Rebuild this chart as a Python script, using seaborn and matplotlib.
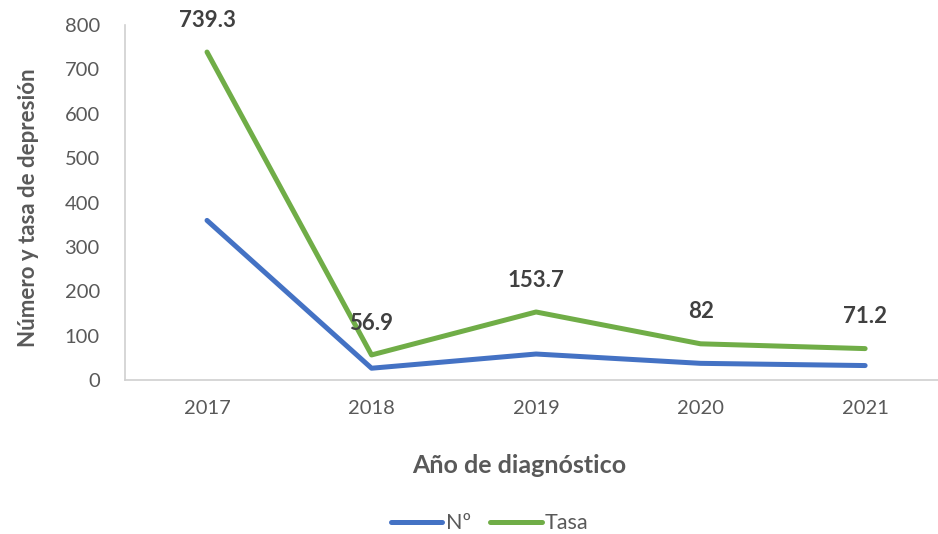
import pandas as pd
import numpy as np
import matplotlib.pyplot as plt
import seaborn as sns

# datos
anios = ['2017', '2018', '2019', '2020', '2021']
numero = [360, 27, 59, 38, 33]
tasa = [739.3, 56.9, 153.7, 82, 71.2]
etiquetas_tasa = ['739.3', '56.9', '153.7', '82', '71.2']

df = pd.DataFrame({
    'Año': anios * 2,
    'Valor': numero + tasa,
    'Serie': ['Nº'] * len(anios) + ['Tasa'] * len(anios),
})

sns.set_style('white')
plt.rcParams['font.family'] = ['Lato', 'DejaVu Sans']

fig = plt.figure(figsize=(9.38, 5.34), dpi=100)
ax = fig.add_axes([0.133, 0.288, 0.877, 0.665])

sns.lineplot(data=df, x='Año', y='Valor', hue='Serie',
             palette={'Nº': '#4472C4', 'Tasa': '#70AD47'},
             linewidth=3.6, ax=ax, legend=False)

# etiquetas de la tasa
for i, (v, t) in enumerate(zip(tasa, etiquetas_tasa)):
    ax.annotate(t, (i, v), xytext=(0, 23), textcoords='offset points',
                ha='center', va='center', fontsize=16, fontweight='bold',
                color='#404040', annotation_clip=False)

ax.set_xlim(-0.5, 4.5)
ax.set_ylim(0, 800)
ax.set_yticks(range(0, 801, 100))
ax.tick_params(axis='both', labelsize=14.5, colors='#595959', length=0)
ax.tick_params(axis='x', pad=14)
ax.tick_params(axis='y', pad=18)

for s in ['top', 'right']:
    ax.spines[s].set_visible(False)
ax.spines['left'].set_color('#D0D0D0')
ax.spines['bottom'].set_color('#D0D0D0')
ax.spines['left'].set_linewidth(1.2)
ax.spines['bottom'].set_linewidth(1.2)

ax.set_xlabel('Año de diagnóstico', fontsize=18, fontweight='bold', color='#595959')
ax.set_ylabel('Número y tasa de depresión', fontsize=16, fontweight='bold', color='#595959')
ax.xaxis.set_label_coords(0.479, -0.208)
ax.yaxis.set_label_coords(-0.104, 0.485)

handles = [plt.Line2D([0], [0], color='#4472C4', lw=3.6),
           plt.Line2D([0], [0], color='#70AD47', lw=3.6)]
fig.legend(handles, ['Nº', 'Tasa'], loc='lower center', bbox_to_anchor=(0.522, -0.035),
           ncol=2, frameon=False, fontsize=15.5, handlelength=2.4, columnspacing=0.9,
           handletextpad=0.15, labelcolor='#595959')

plt.savefig('out.png', dpi=100)
